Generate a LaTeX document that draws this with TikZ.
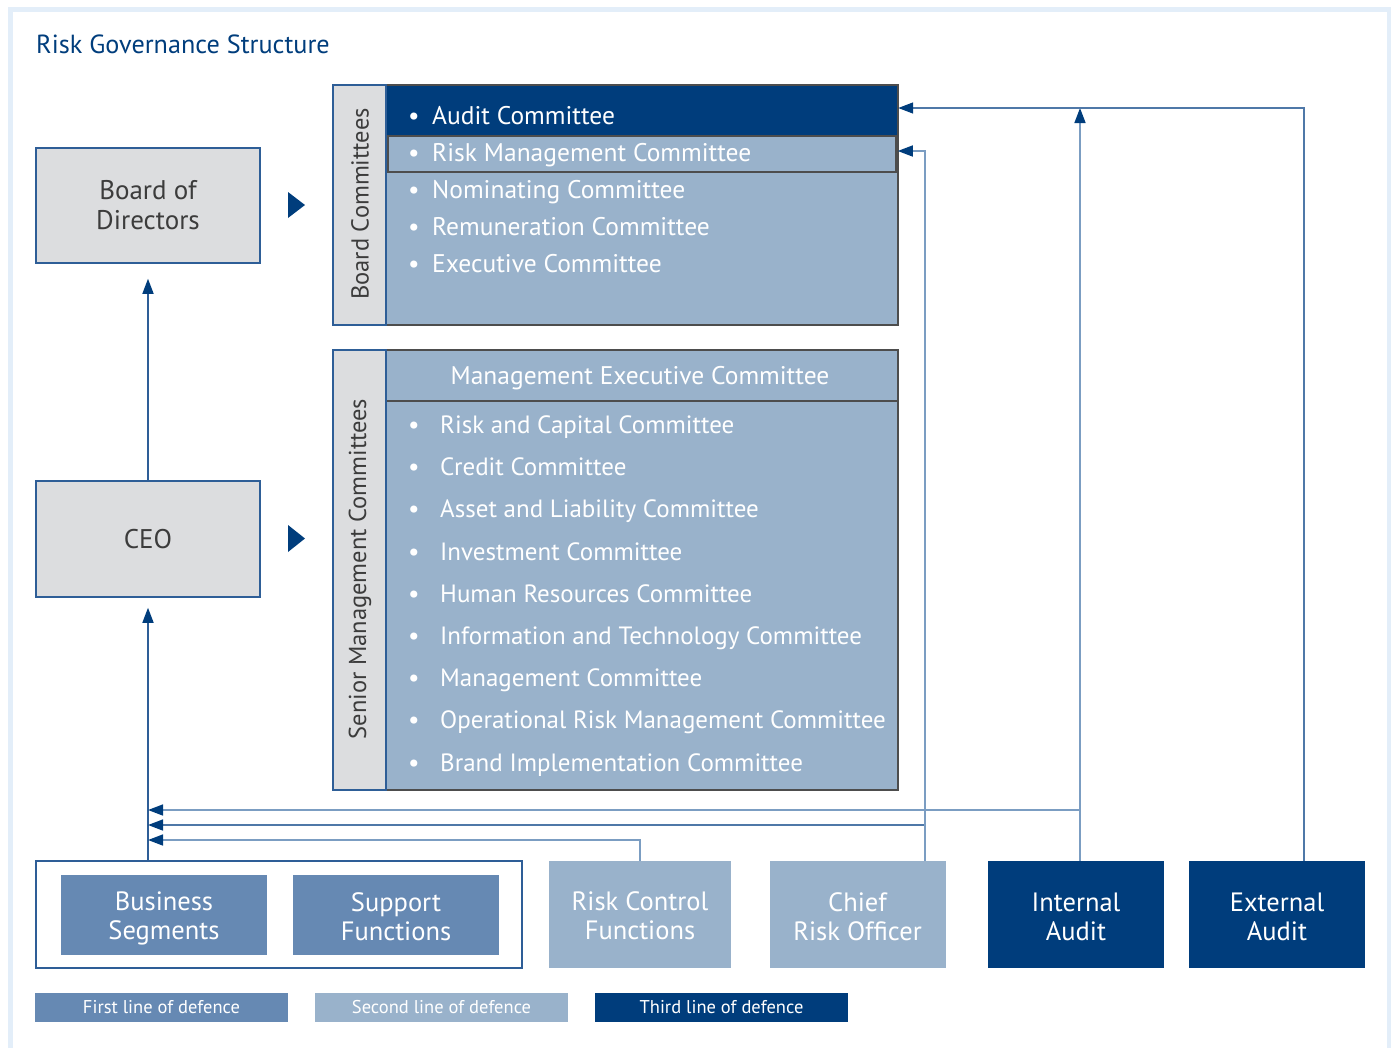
\documentclass[tikz,border=0pt]{standalone}
\usepackage{fontspec}
\setmainfont{PT Sans}
\usetikzlibrary{arrows.meta}
\definecolor{navy}{HTML}{003D7C}
\definecolor{midblue}{HTML}{6689B3}
\definecolor{lightblue}{HTML}{99B2CB}
\definecolor{boxgray}{HTML}{DCDDDF}
\definecolor{edgeblue}{HTML}{2E5E97}
\definecolor{frameblue}{HTML}{E3EEF9}
\definecolor{textgray}{HTML}{3C3C3C}
\definecolor{linelight}{HTML}{7B9DC2}
\definecolor{linemid}{HTML}{4F78A8}
\definecolor{darkedge}{HTML}{4D4D4D}
\tikzset{
  big/.style={font=\fontsize{25.5}{29}\selectfont},
  small/.style={font=\fontsize{25}{29}\selectfont},
  boxfont/.style={font=\fontsize{27}{30}\selectfont},
  unitfont/.style={font=\fontsize{26.5}{29}\selectfont},
  graybox/.style={draw=edgeblue, fill=boxgray, line width=1.5pt, text=textgray, boxfont, align=center, inner sep=0pt},
  strip/.style={draw=edgeblue, fill=boxgray, line width=1.5pt, inner sep=0pt},
  panel/.style={fill=lightblue, inner sep=0pt},
  unitbox/.style={inner sep=0pt},
  unittext/.style={inner sep=0pt, text=white, unitfont, align=center},
  legendbox/.style={inner sep=0pt, text=white, font=\fontsize{18.5}{21}\selectfont, minimum width=253, minimum height=29},
  vlabel/.style={rotate=90, text=textgray, font=\fontsize{24.5}{29}\selectfont, inner sep=0pt},
  item/.style={anchor=base west, text=white, big, inner sep=0pt},
  sitem/.style={anchor=base west, text=white, small, inner sep=0pt},
  bul/.style={anchor=base, text=white, big, inner sep=0pt},
  arr/.style={line width=1.5pt, -{Triangle[length=15pt,width=11pt,color=navy]}},
  marker/.style={fill=navy},
}
\begin{document}
\begin{tikzpicture}[x=1pt,y=-1pt]
\useasboundingbox (0,0) rectangle (1391,1047);
% frame
\draw[frameblue, line width=5pt] (10,1050) -- (10,9) -- (1389,9) -- (1389,1050);

% title
\node[anchor=base west, inner sep=0pt, text=navy, font=\fontsize{26.2}{30}\selectfont] (title) at (36,53) {Risk Governance Structure};

% left column
\node[graybox, minimum width=224, minimum height=115] (bod) at (148,205.5) {Board of\\Directors};
\node[graybox, minimum width=224, minimum height=116] (ceo) at (148,539) {CEO};

% markers
\fill[marker] (288,192) -- (305,205) -- (288,218) -- cycle;
\fill[marker] (288,525) -- (305,538.5) -- (288,552) -- cycle;

% Board committees
\node[panel, minimum width=512, minimum height=240] (bcm) at (642,205) {};
\node[fill=navy, inner sep=0pt, minimum width=512, minimum height=50] (aud) at (642,110) {};
\node[draw=darkedge, line width=2.5pt, fill=lightblue, inner sep=0pt, minimum width=509, minimum height=36] (rm) at (642,154) {};
\draw[darkedge, line width=1.5pt] (bcm.north west) rectangle (bcm.south east);
\node[strip, minimum width=53, minimum height=240] (bcs) at (359.5,205) {};
\node[vlabel] (bcl) at (360,204) {Board Committees};
\foreach \t [count=\i] in {Audit Committee, Risk Management Committee, Nominating Committee, Remuneration Committee, Executive Committee} {
  \node[bul] (bb\i) at (414,{124+37*(\i-1)}) {•};
  \node[item] (bt\i) at (432,{124+37*(\i-1)}) {\t};
}

% Senior management committees
\node[panel, minimum width=512, minimum height=440] (smc) at (642,570) {};
\draw[darkedge, line width=1.5pt] (smc.north west) rectangle (smc.south east);
\draw[darkedge, line width=1.5pt] (smc.west |- 0,401) -- (smc.east |- 0,401);
\node[strip, minimum width=53, minimum height=440] (sms) at (359.5,570) {};
\node[vlabel] (sml) at (360,569) {Senior Management Committees};
\node[anchor=base, text=white, big, inner sep=0pt] (mec) at (640,384) {Management Executive Committee};
\foreach \t [count=\i] in {Risk and Capital Committee, Credit Committee, Asset and Liability Committee, Investment Committee, Human Resources Committee, Information and Technology Committee, Management Committee, Operational Risk Management Committee, Brand Implementation Committee} {
  \node[bul] (sb\i) at (414,{433.5+42.2*(\i-1)}) {•};
  \node[sitem] (st\i) at (440,{433.5+42.2*(\i-1)}) {\t};
}

% bottom units
\node[draw=edgeblue, line width=1.5pt, fill=white, inner sep=0pt, minimum width=486, minimum height=107] (fl) at (279,914.5) {};
\node[unitbox, fill=midblue, minimum width=206, minimum height=80] (bs) at (164,915) {};
\node[unitbox, fill=midblue, minimum width=206, minimum height=80] (sf) at (396,915) {};
\node[unitbox, fill=lightblue, minimum width=182, minimum height=107] (rcf) at (640,914.5) {};
\node[unitbox, fill=lightblue, minimum width=176, minimum height=107] (cro) at (857.5,914.5) {};
\node[unitbox, fill=navy, minimum width=176, minimum height=107] (ia) at (1076,914.5) {};
\node[unitbox, fill=navy, minimum width=176, minimum height=107] (ea) at (1277,914.5) {};
\node[unittext] (bsT) at ([yshift=-3pt]bs.center) {Business\\Segments};
\node[unittext] (sfT) at ([yshift=-2pt]sf.center) {Support\\Functions};
\node[unittext] (rcfT) at ([yshift=-1pt]rcf.center) {Risk Control\\Functions};
\node[unittext] (croT0) at ([yshift=-2pt]cro.center) {Chief\\Risk Officer};
\node[unittext] (iaT0) at ([yshift=-2pt]ia.center) {Internal\\Audit};
\node[unittext] (eaT0) at ([yshift=-2pt]ea.center) {External\\Audit};

% legend
\node[legendbox, fill=midblue] (l1) at (161.5,1007.5) {First line of defence};
\node[legendbox, fill=lightblue] (l2) at (441.5,1007.5) {Second line of defence};
\node[legendbox, fill=navy] (l3) at (721.5,1007.5) {Third line of defence};

% connectors
\coordinate (j1) at (148,810);
\coordinate (j2) at (148,825);
\coordinate (j3) at (148,840);
\coordinate (tl) at (0,108);
\coordinate (croT) at ([xshift=67.5pt]cro.north);
\coordinate (iaT) at ([xshift=4pt]ia.north);
\coordinate (eaT) at ([xshift=27pt]ea.north);
\draw[arr, edgeblue, shorten >=15pt] (ceo.north) -- (bod.south);
\draw[arr, edgeblue, shorten >=10pt] (fl.north -| ceo.south) -- (ceo.south);
\draw[arr, linelight] (iaT |- j1) -- (j1);
\draw[arr, linemid] (croT |- j2) -- (j2);
\draw[arr, linelight] (rcf.north) |- (j3);
\draw[arr, linelight] (iaT) -- (iaT |- tl);
\draw[arr, linemid] (eaT) |- (aud.east |- tl);
\draw[arr, linelight] (croT) |- ([yshift=3pt]rm.east);
\end{tikzpicture}
\end{document}
